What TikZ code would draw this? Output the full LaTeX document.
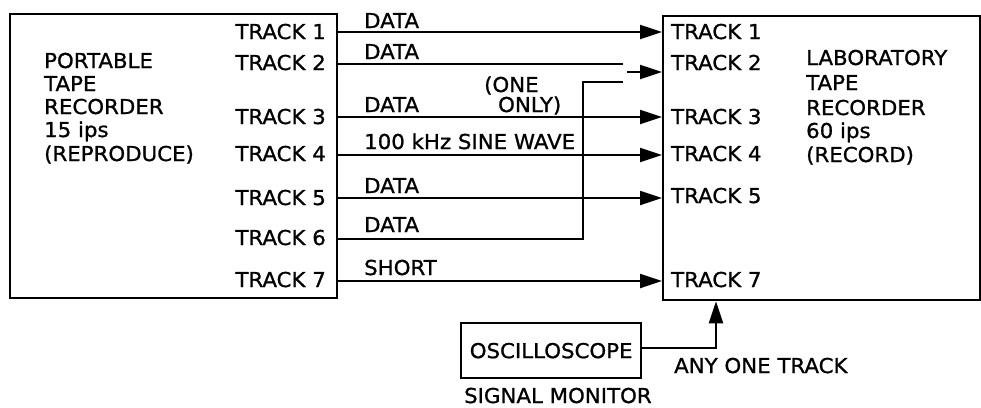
\documentclass[tikz,border=0pt]{standalone}
\usepackage{fontspec}
\setmainfont{DejaVu Sans}[FakeStretch=1.04,FakeBold=1]
\usetikzlibrary{arrows.meta}
\begin{document}
\begin{tikzpicture}[x=1pt,y=-1pt,line width=2.3pt,
  lbl/.style={font=\fontsize{20.5}{24}\selectfont,inner sep=0pt},
  boxnode/.style={draw,inner sep=0pt,anchor=north west},
  conn/.style={-{Triangle[length=22pt,width=14pt]}}]
\useasboundingbox (0,0) rectangle (981,407);
% boxes
\node[boxnode,minimum width=327pt,minimum height=284pt] (port) at (9,13) {};
\node[boxnode,minimum width=317pt,minimum height=284pt] (lab) at (662,15) {};
\node[boxnode,minimum width=180pt,minimum height=55pt] (osc) at (460,322) {};
% box texts
\node[lbl,anchor=base west] (p1) at (43,68) {PORTABLE};
\node[lbl,anchor=base west] (p2) at (43,91) {TAPE};
\node[lbl,anchor=base west] (p3) at (43,114) {RECORDER};
\node[lbl,anchor=base west] (p4) at (43,137) {15 ips};
\node[lbl,anchor=base west] (p5) at (43,161) {(REPRODUCE)};
\node[lbl,anchor=base west] (q1) at (805,65) {LABORATORY};
\node[lbl,anchor=base west] (q2) at (805,90) {TAPE};
\node[lbl,anchor=base west] (q3) at (805,115) {RECORDER};
\node[lbl,anchor=base west] (q4) at (805,138) {60 ips};
\node[lbl,anchor=base west] (q5) at (805,162) {(RECORD)};
\node[lbl] (osct) at (osc.center) {OSCILLOSCOPE};
\node[lbl,anchor=base west] (sig) at (463,403) {SIGNAL MONITOR};
\node[lbl,anchor=base west] (any) at (673,373) {ANY ONE TRACK};
% track labels
\node[lbl,anchor=base east] (lt1) at (327,39) {TRACK 1};
\node[lbl,anchor=base east] (lt2) at (327,70) {TRACK 2};
\node[lbl,anchor=base east] (lt3) at (327,124) {TRACK 3};
\node[lbl,anchor=base east] (lt4) at (327,161) {TRACK 4};
\node[lbl,anchor=base east] (lt5) at (327,205) {TRACK 5};
\node[lbl,anchor=base east] (lt6) at (327,245) {TRACK 6};
\node[lbl,anchor=base east] (lt7) at (327,287) {TRACK 7};
\node[lbl,anchor=base west] (rt1) at (670,39) {TRACK 1};
\node[lbl,anchor=base west] (rt2) at (670,70) {TRACK 2};
\node[lbl,anchor=base west] (rt3) at (670,124) {TRACK 3};
\node[lbl,anchor=base west] (rt4) at (670,161) {TRACK 4};
\node[lbl,anchor=base west] (rt5) at (670,203) {TRACK 5};
\node[lbl,anchor=base west] (rt7) at (670,287) {TRACK 7};
% line labels
\node[lbl,anchor=base west] (d1) at (363,28) {DATA};
\node[lbl,anchor=base west] (d2) at (363,59) {DATA};
\node[lbl,anchor=base west] (one) at (483,92) {(ONE};
\node[lbl,anchor=base west] (only) at (497,112) {ONLY)};
\node[lbl,anchor=base west] (d3) at (363,112) {DATA};
\node[lbl,anchor=base west] (sine) at (363,149) {100 kHz SINE WAVE};
\node[lbl,anchor=base west] (d5) at (363,193) {DATA};
\node[lbl,anchor=base west] (d6) at (363,232) {DATA};
\node[lbl,anchor=base west] (sh) at (363,275) {SHORT};
% switch coordinates
\coordinate (sw2) at (623,64);
\coordinate (sw6) at (623,82);
\coordinate (swo) at (627,72);
\coordinate (bend6) at (583,239);
\coordinate (mon) at (716,348);
% connectors
\draw[conn] (port.east |- 0,32) -- (lab.west |- 0,32);
\draw (port.east |- 0,64) -- (sw2);
\draw[conn] (swo) -- (lab.west |- swo);
\draw[conn] (port.east |- 0,117) -- (lab.west |- 0,117);
\draw[conn] (port.east |- 0,155) -- (lab.west |- 0,155);
\draw[conn] (port.east |- 0,198) -- (lab.west |- 0,198);
\draw (port.east |- bend6) -- (bend6) |- (sw6);
\draw[conn] (port.east |- 0,281) -- (lab.west |- 0,281);
\draw[conn] (osc.east |- mon) -- (mon) -- (lab.south -| mon);
\end{tikzpicture}
\end{document}
